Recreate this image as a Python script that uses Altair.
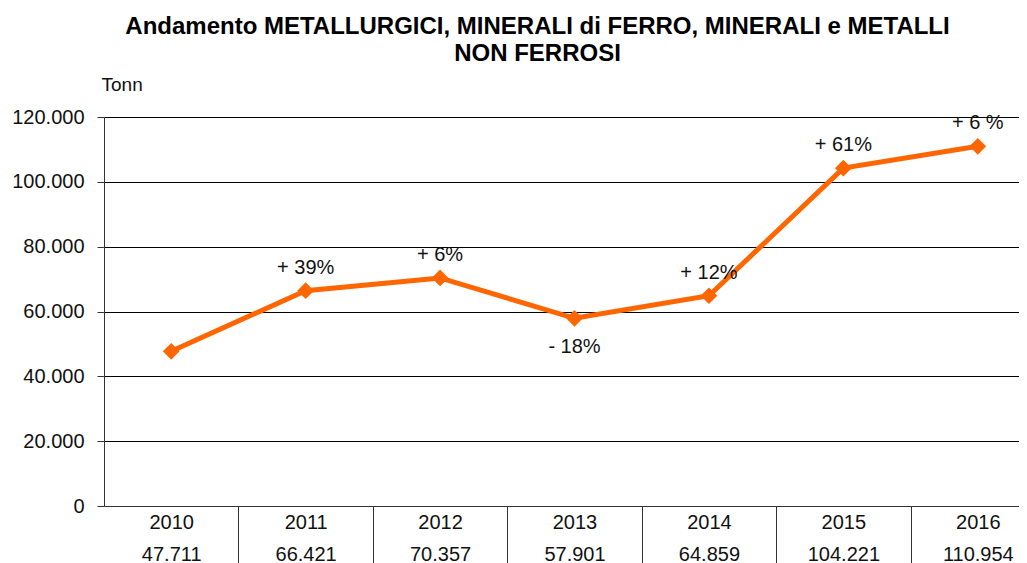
import altair as alt
import pandas as pd

years = ["2010", "2011", "2012", "2013", "2014", "2015", "2016"]
tonnes = [47711, 66421, 70357, 57901, 64859, 104221, 110954]
changes = ["", "+ 39%", "+ 6%", "- 18%", "+ 12%", "+ 61%", "+ 6 %"]
below = [False, False, False, True, False, False, False]
y_ticks = [0, 20000, 40000, 60000, 80000, 100000, 120000]
title_lines = ["Andamento METALLURGICI, MINERALI di FERRO, MINERALI e METALLI", "NON FERROSI"]


def it_num(v):
    return f"{v:,}".replace(",", ".")


cats = [f"{y}|{it_num(v)}" for y, v in zip(years, tonnes)]
df = pd.DataFrame({"cat": cats, "tonnes": tonnes, "change": changes, "below": below})

FONT = "Liberation Sans"
ORANGE = "#FF6600"
DARK = "#333333"
TXT = "#111111"

x = alt.X(
    "cat:N",
    sort=cats,
    scale=alt.Scale(range=[0, 941]),
    axis=alt.Axis(
        title=None,
        labelExpr="split(datum.label, '|')",
        labelAngle=0,
        tickBand="extent",
        tickSize=57,
        tickColor={"condition": {"test": "datum.extra", "value": "transparent"}, "value": DARK},
        labelPadding=-51,
        labelFontSize=20,
        labelLineHeight=32,
        labelFont=FONT,
        labelColor=TXT,
        domainColor=DARK,
    ),
)
y = alt.Y(
    "tonnes:Q",
    scale=alt.Scale(domain=[0, 120000]),
    axis=alt.Axis(
        values=y_ticks,
        labelExpr="replace(format(datum.value, ','), ',', '.')",
        title="Tonn",
        titleAngle=0,
        titleX=-3,
        titleY=-27,
        titleAlign="left",
        titleBaseline="alphabetic",
        titleFontSize=19,
        titleFontWeight="normal",
        titleFont=FONT,
        titleColor=TXT,
        labelFontSize=20,
        labelFont=FONT,
        labelColor=TXT,
        tickSize=7,
        labelPadding=13,
        gridColor="#000000",
        gridWidth=1,
        domainColor=DARK,
        tickColor=DARK,
    ),
)

base = alt.Chart(df)
line = base.mark_line(color=ORANGE, strokeWidth=5).encode(x=x, y=y)
pts = base.mark_point(shape="diamond", filled=True, size=280, color=ORANGE, opacity=1).encode(x=x, y=y)
above_txt = base.transform_filter("!datum.below").mark_text(
    dy=-23, fontSize=20, font=FONT, color=TXT
).encode(x=x, y=y, text="change:N")
below_txt = base.transform_filter("datum.below").mark_text(
    dy=29, fontSize=20, font=FONT, color=TXT
).encode(x=x, y=y, text="change:N")

chart = (
    alt.layer(line, pts, above_txt, below_txt)
    .properties(
        width=915,
        height=389,
        padding={"left": 96, "top": 109, "right": 0, "bottom": 57},
        autosize="none",
        title=alt.TitleParams(
            text=title_lines,
            font=FONT,
            fontSize=24,
            fontWeight="bold",
            color="#000000",
            anchor="middle",
            baseline="alphabetic",
            dx=-24,
            offset=-10,
            lineHeight=27,
        ),
    )
    .configure_view(strokeWidth=0)
)

chart.save("out.html", embed_options={"renderer": "svg", "actions": False})
